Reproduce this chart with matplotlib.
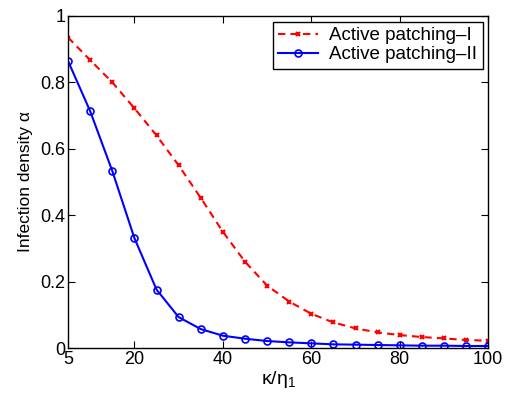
import matplotlib
matplotlib.use('Agg')
import matplotlib.pyplot as plt

plt.rcParams['font.family'] = ['Liberation Sans', 'DejaVu Sans']
plt.rcParams['mathtext.fontset'] = 'custom'
plt.rcParams['mathtext.rm'] = 'Liberation Sans'
plt.rcParams['mathtext.it'] = 'Liberation Sans:italic'

kappa = [5, 10, 15, 20, 25, 30, 35, 40, 45, 50, 55, 60, 65, 70, 75, 80, 85, 90, 95, 100]
patch_1 = [0.935, 0.867, 0.800, 0.722, 0.640, 0.550, 0.452, 0.350, 0.260, 0.188, 0.140, 0.103,
           0.077, 0.059, 0.047, 0.039, 0.033, 0.029, 0.024, 0.022]
patch_2 = [0.864, 0.713, 0.533, 0.331, 0.176, 0.093, 0.057, 0.037, 0.028, 0.021, 0.017, 0.014,
           0.011, 0.010, 0.009, 0.008, 0.007, 0.007, 0.006, 0.006]
xticks = [5, 20, 40, 60, 80, 100]
yticks = [0, 0.2, 0.4, 0.6, 0.8, 1]

fig = plt.figure(figsize=(5.08, 3.93), dpi=100)
ax = fig.add_axes([0.134, 0.1145, 0.827, 0.845])

ax.plot(kappa, patch_1, 'r--x', lw=1.5, ms=3.5, mew=1.5, dashes=(3.5, 2.5),
        label='Active patching\u2013I')
ax.plot(kappa, patch_2, 'b-o', lw=1.5, ms=5, mfc='none', mew=1.2, label='Active patching\u2013II')

ax.set_xlim(5, 100)
ax.set_ylim(0, 1)
ax.set_xticks(xticks)
ax.set_yticks(yticks)
ax.set_yticklabels(['0', '0.2', '0.4', '0.6', '0.8', '1'])
ax.tick_params(direction='in', top=True, right=True, length=5, labelsize=13, pad=2)
for s in ax.spines.values():
    s.set_linewidth(1.0)

ax.set_xlabel(r'$\mathregular{\kappa/\eta_1}$', fontsize=14, labelpad=1)
ax.set_ylabel('Infection density \u03b1', fontsize=12.5, labelpad=5)

leg = ax.legend(loc='upper right', fontsize=13.5, frameon=True, fancybox=False,
                edgecolor='black', framealpha=1, handlelength=2.1, handletextpad=0.6,
                borderpad=0.3, labelspacing=0.1, borderaxespad=0.3)
leg.get_frame().set_linewidth(1.0)

fig.savefig('out.png', dpi=100)
